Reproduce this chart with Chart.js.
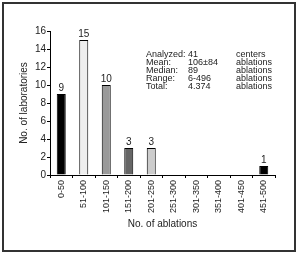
<!DOCTYPE html>
<html><head><meta charset="utf-8">
<script src="https://cdn.jsdelivr.net/npm/chart.js@4/dist/chart.umd.min.js"></script>
<style>html,body{margin:0;padding:0;background:#fff;}#wrap{width:300px;height:255px;position:relative;}</style>
</head><body><div id="wrap"><canvas id="c" width="300" height="255"></canvas></div>
<script>
const categories = ['0-50','51-100','101-150','151-200','201-250','251-300','301-350','351-400','401-450','451-500'];
const laboratories = [9, 15, 10, 3, 3, 0, 0, 0, 0, 1];
const barColors = ['#000000','#eeeeee','#999999','#666666','#cccccc','#ffffff','#ffffff','#ffffff','#ffffff','#000000'];
const yTicks = [0, 2, 4, 6, 8, 10, 12, 14, 16];
const statLabels = ['Analyzed:', 'Mean:', 'Median:', 'Range:', 'Total:'];
const statValues = ['41', '106\u00b184', '89', '6-496', '4.374'];
const statUnits = ['centers', 'ablations', 'ablations', 'ablations', 'ablations'];

const FONT = "'Liberation Sans Narrow', 'Arial Narrow', 'Liberation Sans', sans-serif";
const TXT = '#222';

const extras = {
  id: 'extras',
  afterDatasetsDraw(chart) {
    const ctx = chart.ctx;
    const meta = chart.getDatasetMeta(0);
    ctx.save();
    ctx.fillStyle = TXT;
    ctx.font = '10px ' + FONT;
    ctx.textAlign = 'center';
    ctx.textBaseline = 'bottom';
    meta.data.forEach((bar, i) => {
      const v = laboratories[i];
      if (v > 0) ctx.fillText(String(v), bar.x, bar.y - 1);
    });
    ctx.font = '9px ' + FONT;
    ctx.textAlign = 'left';
    ctx.textBaseline = 'alphabetic';
    statLabels.forEach((s, i) => {
      const y = 57 + i * 8;
      ctx.fillText(s, 146, y);
      ctx.fillText(statValues[i], 188, y);
      ctx.fillText(statUnits[i], 236, y);
    });
    ctx.strokeStyle = '#333';
    ctx.lineWidth = 2;
    ctx.strokeRect(3, 3, 292, 248);
    ctx.restore();
  }
};

new Chart(document.getElementById('c'), {
  type: 'bar',
  data: {
    labels: categories,
    datasets: [{
      data: laboratories,
      backgroundColor: barColors,
      borderColor: '#000',
      borderWidth: 1,
      barPercentage: 0.4,
      categoryPercentage: 1.0
    }]
  },
  options: {
    responsive: false,
    animation: false,
    events: [],
    layout: { padding: { left: 18, top: 31, right: 25, bottom: 25 } },
    plugins: { legend: { display: false }, tooltip: { enabled: false } },
    scales: {
      x: {
        grid: { display: true, drawOnChartArea: false, tickLength: 3, color: '#000', offset: true },
        border: { display: true, color: '#000', width: 1 },
        ticks: { color: TXT, font: { family: FONT, size: 9 }, minRotation: 90, maxRotation: 90, padding: 2, autoSkip: false },
        title: { display: true, text: 'No. of ablations', color: TXT, font: { family: FONT, size: 10 }, padding: 0 },
        afterFit(s) { s.height = 55; }
      },
      y: {
        min: 0, max: 16,
        afterBuildTicks(s) { s.ticks = yTicks.map(v => ({ value: v })); },
        grid: { display: true, drawOnChartArea: false, tickLength: 3, color: '#000' },
        border: { display: true, color: '#000', width: 1 },
        ticks: { color: TXT, font: { family: FONT, size: 10 }, padding: 1 },
        title: { display: true, text: 'No. of laboratories', color: TXT, font: { family: FONT, size: 10 }, padding: 0 },
        afterFit(s) { s.width = 32; }
      }
    }
  },
  plugins: [extras]
});
</script>
</body></html>
